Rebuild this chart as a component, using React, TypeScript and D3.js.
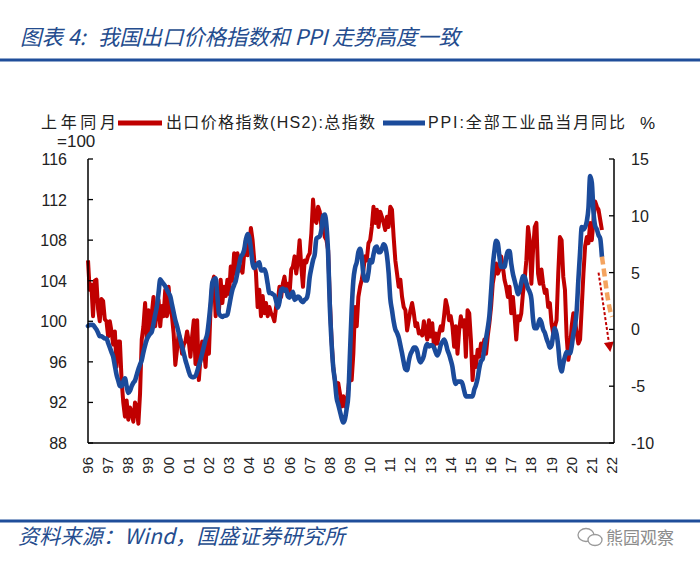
import React from "react";
import * as d3 from "d3";

// Month index 0 = first category of the chart (late 1996); one label every 12 months.
const yearLabels = ["96","97","98","99","00","01","02","03","04","05","06","07","08","09","10","11","12","13","14","15","16","17","18","19","20","21","22"];

const exportPriceIndex = [
  106.0,103.1,103.6,100.5,104.0,104.1,101.2,100.0,102.2,102.0,100.2,100.0,
  98.5,100.0,99.0,97.7,99.0,95.5,98.0,98.0,94.2,92.0,90.6,92.2,
  90.3,91.5,91.0,90.1,92.0,91.5,89.9,92.9,98.2,99.5,101.8,98.2,
  101.1,99.0,100.8,102.4,99.5,101.0,102.1,99.5,101.5,100.5,103.1,100.5,
  103.4,101.1,100.5,98.8,95.7,97.2,98.8,98.2,96.8,97.7,98.0,99.0,
  98.0,96.5,98.5,100.1,95.8,100.1,94.2,96.5,98.0,97.5,95.5,98.5,
  96.8,101.4,103.7,104.4,100.5,102.4,101.1,104.1,101.8,103.4,102.5,104.1,
  102.7,105.4,104.0,106.7,104.7,106.7,105.0,105.4,104.8,106.7,108.0,106.5,
  107.4,109.2,108.0,106.0,104.8,101.4,103.1,100.5,102.5,100.8,101.8,100.5,
  101.4,100.8,100.5,100.0,101.4,102.0,103.4,102.4,103.7,104.4,103.1,103.7,
  102.7,105.1,105.4,106.4,104.7,106.0,108.0,105.4,103.4,106.0,105.8,106.4,
  106.7,108.7,112.0,110.0,109.7,111.3,110.8,109.3,110.0,108.3,108.0,107.0,
  102.1,98.2,95.5,94.2,93.6,93.9,92.9,91.6,92.6,91.6,92.0,93.3,
  94.9,94.2,96.8,101.4,99.5,102.4,103.4,104.1,105.1,106.4,106.0,107.7,
  108.0,109.3,111.3,109.7,111.0,109.3,110.8,110.3,109.7,109.0,110.3,109.3,
  111.3,111.0,108.3,106.0,104.7,103.4,104.1,102.4,101.4,101.1,99.1,100.1,
  101.1,101.8,100.8,99.5,99.8,98.8,99.0,98.6,100.0,99.0,98.2,100.1,
  98.5,99.8,97.5,98.8,97.8,98.8,99.5,99.1,100.5,102.1,101.4,100.1,
  100.5,99.5,97.5,99.5,96.8,99.1,100.5,99.5,100.1,96.5,101.1,100.8,
  98.2,94.2,96.5,95.5,97.2,96.5,97.8,97.2,98.2,96.8,98.5,99.8,
  101.4,103.7,104.7,105.7,104.7,105.1,106.4,105.4,104.1,103.4,102.4,103.4,
  100.8,102.4,100.5,98.2,100.5,100.1,100.8,102.8,104.1,106.0,109.3,108.0,
  103.7,107.0,109.3,109.7,104.7,103.7,105.1,103.7,102.8,103.1,101.4,101.8,
  99.8,98.8,99.5,100.1,104.7,108.3,108.0,104.4,103.1,98.5,96.2,97.2,
  99.5,100.8,100.1,98.8,97.8,98.2,101.4,104.7,107.4,108.3,107.7,109.7,
  108.0,110.0,111.8,111.3,111.0,110.0,109.0
];

const ppiYoY = [
  0.3,0.4,0.4,0.4,0.2,0.0,-0.3,-0.6,-0.6,-0.7,-0.8,-0.8,
  -1.2,-1.6,-2.0,-2.4,-3.2,-4.0,-4.5,-5.0,-5.0,-4.6,-4.3,-5.0,
  -5.6,-5.4,-5.0,-4.7,-4.5,-4.0,-3.5,-3.1,-2.7,-2.0,-1.4,-0.9,
  -0.6,-0.4,-0.2,0.5,1.3,2.0,3.2,4.4,4.2,4.0,3.8,3.5,
  3.2,2.9,2.2,1.5,0.8,0.3,-0.3,-0.9,-1.5,-2.1,-2.7,-3.2,
  -3.7,-4.1,-4.2,-4.2,-4.1,-3.7,-3.2,-2.7,-2.1,-1.5,-0.9,-0.4,
  0.8,2.3,4.1,4.4,4.5,3.0,1.4,1.2,1.1,1.2,1.2,1.3,
  2.0,2.8,3.5,3.9,4.3,5.0,5.7,6.4,6.6,7.0,7.9,8.4,
  8.1,7.1,5.8,5.4,5.6,5.8,5.9,5.2,5.2,5.3,4.9,4.0,
  3.2,3.2,3.1,3.0,2.5,1.9,2.4,3.5,3.6,3.4,3.5,2.9,
  2.8,3.1,3.3,2.6,2.7,2.9,2.8,2.5,2.4,2.6,2.7,3.2,
  4.6,5.4,6.1,6.6,8.0,8.1,8.2,8.8,10.0,10.1,9.1,6.6,
  2.0,-1.1,-3.3,-4.5,-6.0,-6.6,-7.2,-7.8,-8.2,-7.9,-7.0,-5.8,
  -2.1,1.7,4.3,5.4,5.9,6.8,7.1,6.4,4.8,4.3,4.3,5.0,
  6.1,5.9,6.6,7.2,7.3,6.8,6.8,7.1,7.5,7.3,6.5,5.0,
  2.7,1.7,0.7,0.0,-0.3,-0.7,-1.4,-2.1,-2.9,-3.5,-3.6,-2.8,
  -2.2,-1.9,-1.6,-1.6,-1.9,-2.6,-2.9,-2.7,-2.3,-1.6,-1.3,-1.5,
  -1.4,-1.4,-1.6,-2.0,-2.3,-2.0,-1.4,-1.1,-0.9,-1.2,-1.8,-2.2,
  -2.7,-3.3,-4.3,-4.8,-4.6,-4.6,-4.6,-4.8,-5.4,-5.9,-5.9,-5.9,
  -5.9,-5.9,-5.3,-4.9,-4.3,-3.4,-2.8,-2.6,-1.7,-0.8,0.1,1.2,
  3.3,5.5,6.9,7.8,7.6,6.4,5.5,5.5,5.5,6.3,6.9,6.9,
  5.8,4.9,4.3,3.7,3.1,3.4,4.1,4.7,4.6,4.1,3.6,3.3,
  2.7,0.9,0.1,0.1,0.4,0.9,0.6,0.0,-0.3,-0.8,-1.2,-1.6,
  -1.4,-0.5,0.1,-0.4,-1.5,-3.1,-3.7,-3.0,-2.4,-2.0,-2.1,-2.1,
  -1.5,-0.4,0.3,1.7,4.4,6.8,9.0,8.8,9.0,9.5,10.7,13.5,
  12.9,10.3,9.1,8.8,8.3,8.0,6.4
];

const forecastStartMonth = 306;
const ppiForecast = [6.4, 5.4, 4.3, 3.2, 2.3, 1.6, 1.1];

const arrowFrom = [304, 5.0];
const arrowTo = [311, -2.0];

const leftTicks = [88, 92, 96, 100, 104, 108, 112, 116];
const rightTicks = [-10, -5, 0, 5, 10, 15];

const RED = "#C00000";
const BLUE = "#1B4B9B";
const ORANGE = "#F4A460";
const HEAD = "#1F4E9A";
const TITLE_C = "#244C8E";
const LATIN = "'Liberation Sans', Arial, 'Noto Sans CJK SC', sans-serif";
const CJK = "'Noto Sans CJK SC', 'Liberation Sans', sans-serif";

export default function App() {
  const W = 700, H = 569;
  const plot = { left: 88, right: 614, top: 159, bottom: 443 };
  const x = d3.scaleLinear().domain([0, 313.2]).range([plot.left, plot.right]);
  const yL = d3.scaleLinear().domain([88, 116]).range([plot.bottom, plot.top]);
  const yR = d3.scaleLinear().domain([-10, 15]).range([plot.bottom, plot.top]);

  const redPath = d3.line<number>().x((_, i) => x(i)).y((d) => yL(d))(exportPriceIndex) || "";
  const bluePath = d3.line<number>().x((_, i) => x(i)).y((d) => yR(d)).curve(d3.curveMonotoneX)(ppiYoY) || "";
  const fcPath = d3.line<number>().x((_, i) => x(forecastStartMonth + i)).y((d) => yR(d)).curve(d3.curveMonotoneX)(ppiForecast) || "";

  const ax = x(arrowFrom[0]), ay = yR(arrowFrom[1]);
  const bx = x(arrowTo[0]), by = yR(arrowTo[1]);
  const len = Math.hypot(bx - ax, by - ay);
  const ux = (bx - ax) / len, uy = (by - ay) / len;
  const headL = 10, headW = 5;
  const hx = bx - ux * headL, hy = by - uy * headL;
  const headPts = `${bx},${by} ${hx - uy * headW},${hy + ux * headW} ${hx + uy * headW},${hy - ux * headW}`;

  return (
    <svg width={W} height={H} viewBox={`0 0 ${W} ${H}`} style={{ display: "block", background: "#fff" }}>
      <style>{`body{margin:0}`}</style>
      <rect x={0} y={0} width={W} height={H} fill="#fff" />
      {/* Title */}
      <text y={45} fontFamily={CJK} fontStyle="italic" fontSize={21.5} fill={TITLE_C}>
        <tspan x={20}>图表 4:</tspan>
        <tspan x={98} textLength={362} lengthAdjust="spacing">我国出口价格指数和 PPI 走势高度一致</tspan>
      </text>
      <rect x={0} y={58.5} width={W} height={3} fill={HEAD} />

      {/* Legend / axis headers */}
      <text x={41} y={128} fontFamily={CJK} fontSize={16} fill="#222" textLength={75} lengthAdjust="spacing">上年同月</text>
      <text x={57} y={147} fontFamily={LATIN} fontSize={17} fill="#222">=100</text>
      <line x1={118} x2={162} y1={123} y2={123} stroke={RED} strokeWidth={5} />
      <text x={166} y={128} fontFamily={LATIN} fontSize={16} fill="#222" textLength={209} lengthAdjust="spacing">出口价格指数(HS2):总指数</text>
      <line x1={383} x2={425} y1={123} y2={123} stroke={BLUE} strokeWidth={5} />
      <text x={428} y={128} fontFamily={LATIN} fontSize={16} fill="#222" textLength={197} lengthAdjust="spacing">PPI:全部工业品当月同比</text>
      <text x={640} y={129} fontFamily={LATIN} fontSize={17} fill="#222">%</text>

      {/* Series */}
      <path d={redPath} fill="none" stroke={RED} strokeWidth={4} strokeLinejoin="round" />
      <path d={bluePath} fill="none" stroke={BLUE} strokeWidth={4.6} strokeLinejoin="round" strokeLinecap="round" />
      <path d={fcPath} fill="none" stroke={ORANGE} strokeWidth={4.5} strokeDasharray="8 4" />
      <line x1={ax} y1={ay} x2={hx} y2={hy} stroke={RED} strokeWidth={2} strokeDasharray="3 2" />
      <polygon points={headPts} fill={RED} />

      {/* Axes */}
      <line x1={plot.left} x2={plot.left} y1={plot.top} y2={plot.bottom} stroke="#000" strokeWidth={1.5} />
      <line x1={plot.right} x2={plot.right} y1={plot.top} y2={plot.bottom} stroke="#000" strokeWidth={1.5} />
      <line x1={plot.left} x2={plot.right} y1={plot.bottom} y2={plot.bottom} stroke="#000" strokeWidth={1.5} />
      {leftTicks.map((t) => (
        <g key={"l" + t}>
          <line x1={plot.left} x2={plot.left + 5} y1={yL(t)} y2={yL(t)} stroke="#000" strokeWidth={1.3} />
          <text x={67} y={yL(t) + 6} textAnchor="end" fontFamily={LATIN} fontSize={16} fill="#222">{t}</text>
        </g>
      ))}
      {rightTicks.map((t) => (
        <g key={"r" + t}>
          <line x1={plot.right - 5} x2={plot.right} y1={yR(t)} y2={yR(t)} stroke="#000" strokeWidth={1.3} />
          <text x={631} y={yR(t) + 6} textAnchor="start" fontFamily={LATIN} fontSize={16} fill="#222">{t}</text>
        </g>
      ))}
      {yearLabels.map((lab, k) => (
        <text key={lab + k} transform={`translate(${x(k * 12) + 5},${457}) rotate(-90)`} textAnchor="end"
          fontFamily={LATIN} fontSize={15} fill="#222">{lab}</text>
      ))}

      {/* Footer */}
      <rect x={0} y={519.5} width={W} height={3} fill={HEAD} />
      <text x={18} y={544} fontFamily={CJK} fontStyle="italic" fontSize={21} fill={TITLE_C} textLength={327} lengthAdjust="spacing">
        资料来源：Wind，国盛证券研究所
      </text>
      <g stroke="#9a9a9a" fill="#fff" strokeWidth={1.3}>
        <ellipse cx={586} cy={535} rx={8} ry={6.5} />
        <ellipse cx={595} cy={540} rx={7} ry={5.5} />
      </g>
      <text x={606} y={544} fontFamily={CJK} fontSize={17} fill="#8c8c8c">熊园观察</text>
    </svg>
  );
}
